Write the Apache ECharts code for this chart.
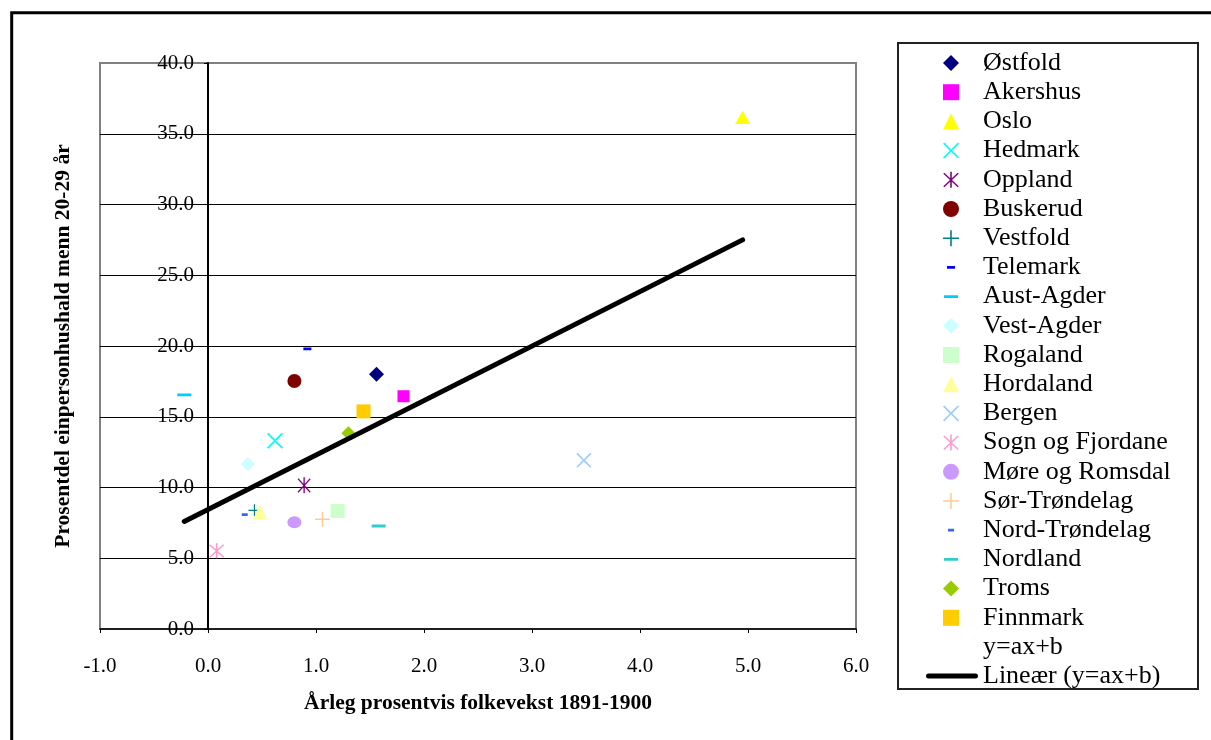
<!DOCTYPE html>
<html>
<head>
<meta charset="utf-8">
<script src="https://cdn.jsdelivr.net/npm/echarts@6/dist/echarts.min.js"></script>
<style>
  html, body { margin: 0; padding: 0; background: #fff; }
  #chart { width: 1211px; height: 740px; }
</style>
</head>
<body>
<div id="chart"></div>
<script>
// ---- data ----
const regions = ['Østfold','Akershus','Oslo','Hedmark','Oppland','Buskerud','Vestfold','Telemark','Aust-Agder','Vest-Agder','Rogaland','Hordaland','Bergen','Sogn og Fjordane','Møre og Romsdal','Sør-Trøndelag','Nord-Trøndelag','Nordland','Troms','Finnmark'];
const growth = [1.56, 1.81, 4.95, 0.62, 0.89, 0.80, 0.43, 0.92, -0.22, 0.37, 1.20, 0.48, 3.48, 0.08, 0.80, 1.06, 0.34, 1.58, 1.30, 1.44];
const singleShare = [18.0, 16.45, 36.15, 13.3, 10.16, 17.53, 8.39, 19.79, 16.54, 11.66, 8.34, 8.27, 11.92, 5.53, 7.54, 7.75, 8.08, 7.28, 13.83, 15.38];
const trendX = [-0.22, 4.95];
const trendY = [7.6, 27.5];
const trendName = 'Lineær (y=ax+b)';
const formulaName = 'y=ax+b';
const xTitle = 'Årleg prosentvis folkevekst 1891-1900';
const yTitle = 'Prosentdel einpersonhushald menn 20-29 år';
const xMin = -1, xMax = 6, xStep = 1;
const yMin = 0, yMax = 40, yStep = 5;

// ---- styles ----
const SPECK = ' M0,0 L0.04,0 L0,0.04 Z M16,16 L15.96,16 L16,15.96 Z';
const P_X = 'path://M1.2,0 L8,6.8 L14.8,0 L16,1.2 L9.2,8 L16,14.8 L14.8,16 L8,9.2 L1.2,16 L0,14.8 L6.8,8 L0,1.2 Z';
const P_AST = 'path://M1.3,1 L8,7.2 L14.7,1 L15.7,2 L9,8.2 L15.7,14.4 L14.7,15.4 L8,9.2 L1.3,15.4 L0.3,14.4 L7,8.2 L0.3,2 Z M7.2,0 H8.8 V16 H7.2 Z';
const P_PLUS = 'path://M7.2,0 H8.8 V7.2 H16 V8.8 H8.8 V16 H7.2 V8.8 H0 V7.2 H7.2 Z';
const P_DASH_S = 'path://M4,6.6 H12 V9.4 H4 Z' + SPECK;
const P_DASH_L = 'path://M1,6.6 H15 V9.4 H1 Z' + SPECK;
const P_DASH_XS = 'path://M5,6.6 H11 V9.4 H5 Z' + SPECK;
const styles = [
  { c: '#000080', s: 'diamond', z: 15 },
  { c: '#FF00FF', s: 'rect', z: 12 },
  { c: '#FFFF00', s: 'triangle', z: [15, 13] },
  { c: '#00FFFF', s: P_X, z: 16 },
  { c: '#800080', s: P_AST, z: [13, 16] },
  { c: '#800000', s: 'circle', z: 14 },
  { c: '#008080', s: P_PLUS, z: 12 },
  { c: '#0000FF', s: P_DASH_S, z: 16 },
  { c: '#00CCFF', s: P_DASH_L, z: 16 },
  { c: '#CCFFFF', s: 'diamond', z: 14 },
  { c: '#CCFFCC', s: 'rect', z: 14 },
  { c: '#FFFF99', s: 'triangle', z: [14, 15] },
  { c: '#99CCFF', s: P_X, z: 15 },
  { c: '#FF99CC', s: P_AST, z: [15, 15] },
  { c: '#CC99FF', s: 'circle', z: [14, 12] },
  { c: '#FFCC99', s: P_PLUS, z: 15 },
  { c: '#3366FF', s: P_DASH_XS, z: 16 },
  { c: '#33CCCC', s: P_DASH_L, z: 16 },
  { c: '#99CC00', s: 'diamond', z: 14 },
  { c: '#FFCC00', s: 'rect', z: 14 }
];

const FONT = "'Liberation Serif', 'Times New Roman', serif";
const GRID = { left: 100, right: 355, top: 63, bottom: 111 };
const plotW = 1211 - GRID.left - GRID.right;
// y axis sits at x = 0 : shift it inwards from the grid's left edge
const yAxisShift = -plotW * (0 - xMin) / (xMax - xMin);

const series = regions.map((name, i) => ({
  name: name,
  type: 'scatter',
  symbol: styles[i].s,
  symbolSize: styles[i].z,
  itemStyle: { color: styles[i].c, opacity: 1 },
  data: [[growth[i], singleShare[i]]],
  z: 3
}));
series.push({ name: formulaName, type: 'scatter', data: [], symbol: 'none' });
series.push({
  name: trendName,
  type: 'line',
  data: trendX.map((x, i) => [x, trendY[i]]),
  symbol: 'none',
  lineStyle: { color: '#000', width: 5, cap: 'round' },
  itemStyle: { color: '#000' },
  z: 4
});

const chart = echarts.init(document.getElementById('chart'), null, { renderer: 'canvas' });
chart.setOption({
  animation: false,
  backgroundColor: '#fff',
  textStyle: { fontFamily: FONT },
  grid: {
    left: GRID.left, right: GRID.right, top: GRID.top, bottom: GRID.bottom,
    containLabel: false, outerBoundsMode: 'none',
    show: true, borderColor: '#808080', borderWidth: 2, backgroundColor: 'transparent'
  },
  xAxis: {
    type: 'value', min: xMin, max: xMax, interval: xStep,
    name: xTitle, nameLocation: 'middle', nameGap: 63,
    nameTextStyle: { fontFamily: FONT, fontWeight: 'bold', fontSize: 21.5, color: '#000' },
    axisLine: { onZero: false, lineStyle: { color: '#000', width: 1.5 } },
    axisTick: { show: true, length: 4, lineStyle: { color: '#000' } },
    axisLabel: { margin: 27, fontFamily: FONT, fontSize: 21, color: '#000', formatter: v => v.toFixed(1) },
    splitLine: { show: false }
  },
  yAxis: {
    type: 'value', min: yMin, max: yMax, interval: yStep,
    offset: yAxisShift,
    name: yTitle, nameLocation: 'middle', nameGap: 134,
    nameTextStyle: { fontFamily: FONT, fontWeight: 'bold', fontSize: 21.5, color: '#000' },
    axisLine: { onZero: false, lineStyle: { color: '#000', width: 2 } },
    axisTick: { show: true, length: 4, lineStyle: { color: '#000' } },
    axisLabel: { margin: 14, fontFamily: FONT, fontSize: 21, color: '#000', formatter: v => v.toFixed(1) },
    splitLine: { show: true, showMinLine: false, showMaxLine: false, lineStyle: { color: '#000', width: 1 } }
  },
  legend: [
    {
      orient: 'vertical', left: 943, top: 48.4, padding: 0,
      itemWidth: 16, itemHeight: 16, itemGap: 0,
      textStyle: { fontFamily: FONT, fontSize: 26, color: '#000', lineHeight: 29.2, padding: [0, 0, 0, 19] },
      data: regions.map(n => ({ name: n })).concat([{ name: formulaName, icon: 'none' }]),
      selectedMode: false
    },
    {
      orient: 'vertical', left: 926, top: 661.4, padding: 0,
      itemWidth: 52, itemHeight: 16, itemGap: 0,
      textStyle: { fontFamily: FONT, fontSize: 26, color: '#000', lineHeight: 29.2 },
      data: [{ name: trendName, icon: 'path://M2.5,0 H49.5 A2.5,2.5 0 0 1 49.5,5 H2.5 A2.5,2.5 0 0 1 2.5,0 Z', itemStyle: { color: '#000' } }],
      selectedMode: false
    }
  ],
  graphic: [
    { type: 'rect', shape: { x: 11.7, y: 12.8, width: 1300, height: 800 }, style: { fill: 'none', stroke: '#000', lineWidth: 3 }, z: 0, silent: true },
    { type: 'rect', shape: { x: 898, y: 43, width: 300, height: 646 }, style: { fill: 'none', stroke: '#222', lineWidth: 2 }, z: 0, silent: true }
  ],
  series: series
});
</script>
</body>
</html>
